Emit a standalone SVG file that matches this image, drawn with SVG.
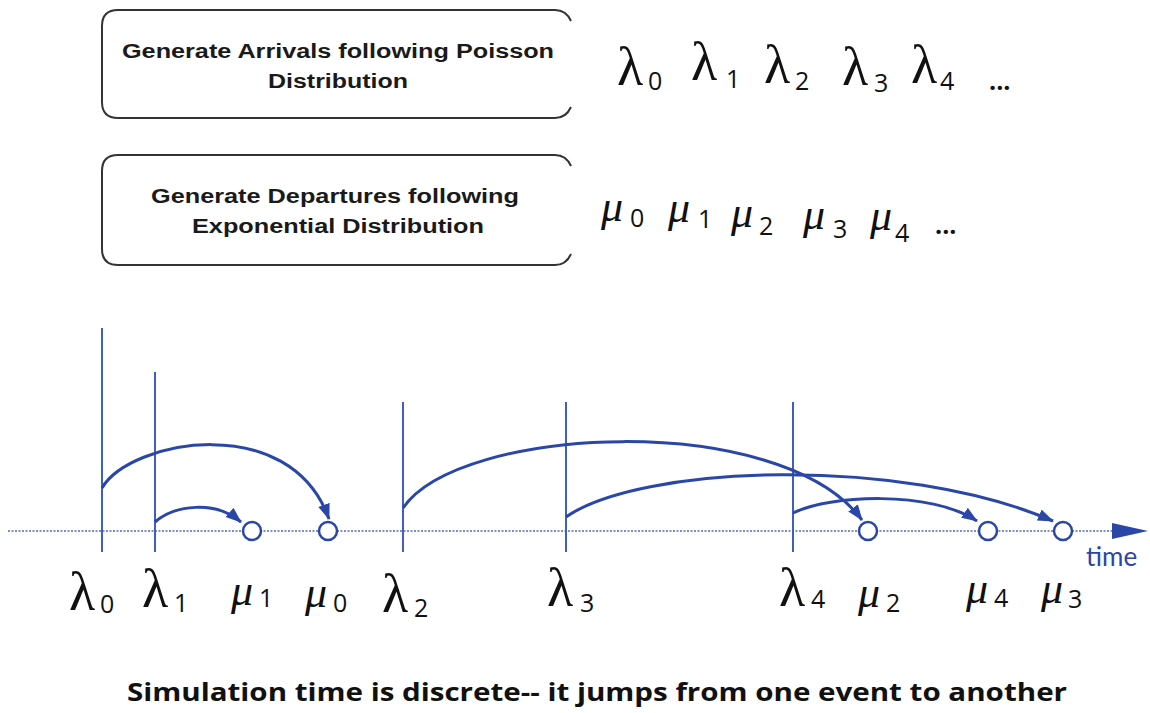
<svg xmlns="http://www.w3.org/2000/svg" width="1150" height="713" viewBox="0 0 1150 713">
<style>
.box{fill:none;stroke:#333;stroke-width:2}
.bt{font-family:"Liberation Sans",Arial,sans-serif;font-weight:bold;font-size:20px;fill:#1a1a1a;text-anchor:middle}
.lam{font-family:"Liberation Serif","DejaVu Serif",serif;font-size:54px;fill:#111}
.mu{font-family:"Liberation Serif","DejaVu Serif",serif;font-style:italic;font-size:44px;fill:#111}
.sub{font-family:"Open Sans","Liberation Sans",sans-serif;font-size:25px;fill:#111}
.vl{stroke:#3f5fc0;stroke-width:2}
.arc{fill:none;stroke:#2a47a8;stroke-width:3;marker-end:url(#ah)}
.ev{fill:#fff;stroke:#2a47a8;stroke-width:2.5}
</style>
<defs>
<marker id="ah" markerUnits="userSpaceOnUse" markerWidth="16" markerHeight="14" refX="15" refY="6" orient="auto">
<path d="M0,0 L16,6 L0,12 Z" fill="#2a47a8"/>
</marker>
</defs>
<g id="arrivals">
<path class="box" d="M571,21 Q566,10 555,10 H118 Q102,10 102,26 V102 Q102,118 118,118 H555 Q566,118 571,107"/>
<text class="bt" x="338" y="58" textLength="432" lengthAdjust="spacingAndGlyphs">Generate Arrivals following Poisson</text>
<text class="bt" x="338" y="88" textLength="140" lengthAdjust="spacingAndGlyphs">Distribution</text>
</g>
<g id="departures">
<path class="box" d="M571,166 Q566,155 555,155 H118 Q102,155 102,171 V249 Q102,265 118,265 H555 Q566,265 571,254"/>
<text class="bt" x="335" y="203" textLength="368" lengthAdjust="spacingAndGlyphs">Generate Departures following</text>
<text class="bt" x="338" y="233" textLength="292" lengthAdjust="spacingAndGlyphs">Exponential Distribution</text>
</g>
<g id="lambda-seq">
<text class="lam" x="617" y="85">λ</text><text class="sub" x="648" y="90">0</text>
<text class="lam" x="691" y="80">λ</text><text class="sub" x="726" y="88">1</text>
<text class="lam" x="764" y="83">λ</text><text class="sub" x="795" y="90">2</text>
<text class="lam" x="842" y="85">λ</text><text class="sub" x="874" y="92">3</text>
<text class="lam" x="911" y="83">λ</text><text class="sub" x="940" y="90">4</text>
<text class="sub" x="989" y="90" font-weight="bold">...</text>
</g>
<g id="mu-seq">
<text class="mu" x="601" y="221">μ</text><text class="sub" x="630" y="227">0</text>
<text class="mu" x="668" y="222">μ</text><text class="sub" x="698" y="228">1</text>
<text class="mu" x="731" y="227">μ</text><text class="sub" x="759" y="235">2</text>
<text class="mu" x="803" y="229">μ</text><text class="sub" x="833" y="238">3</text>
<text class="mu" x="870" y="230">μ</text><text class="sub" x="895" y="242">4</text>
<text class="sub" x="935" y="234" font-weight="bold">...</text>
</g>
<g id="timeline">
<line x1="8" y1="531" x2="1116" y2="531" stroke="#4a6cc4" stroke-width="1.5" stroke-dasharray="2,1.5"/>
<polygon points="1112,523 1148,531 1112,539" fill="#2a47a8"/>
<text x="1086" y="566" font-family="Lato,'Open Sans',sans-serif" font-size="26" fill="#2a47a8">time</text>
</g>
<g id="ticks">
<line class="vl" x1="102" y1="328" x2="102" y2="552"/>
<line class="vl" x1="155" y1="372" x2="155" y2="552"/>
<line class="vl" x1="403" y1="402" x2="403" y2="552"/>
<line class="vl" x1="566" y1="402" x2="566" y2="552"/>
<line class="vl" x1="793" y1="402" x2="793" y2="552"/>
</g>
<g id="connectors">
<path class="arc" d="M102,488 C130,440 290,410 329,519"/>
<path class="arc" d="M155,522 C175,505 215,500 241,522"/>
<path class="arc" d="M403,508 C460,425 780,410 862,520"/>
<path class="arc" d="M566,517 C640,465 900,455 1053,521"/>
<path class="arc" d="M793,513 C830,495 930,490 977,521"/>
</g>
<g id="events">
<circle class="ev" cx="252" cy="531" r="9"/>
<circle class="ev" cx="328" cy="531" r="9"/>
<circle class="ev" cx="868" cy="531" r="9"/>
<circle class="ev" cx="988" cy="531" r="9"/>
<circle class="ev" cx="1063" cy="531" r="9"/>
</g>
<g id="axis-labels">
<text class="lam" x="69" y="610">λ</text><text class="sub" x="100" y="613">0</text>
<text class="lam" x="142" y="607">λ</text><text class="sub" x="174" y="612">1</text>
<text class="mu" x="231" y="605">μ</text><text class="sub" x="259" y="607">1</text>
<text class="mu" x="305" y="607">μ</text><text class="sub" x="333" y="612">0</text>
<text class="lam" x="382" y="612">λ</text><text class="sub" x="414" y="617">2</text>
<text class="lam" x="547" y="606">λ</text><text class="sub" x="580" y="612">3</text>
<text class="lam" x="779" y="606">λ</text><text class="sub" x="811" y="608">4</text>
<text class="mu" x="858" y="607">μ</text><text class="sub" x="886" y="612">2</text>
<text class="mu" x="966" y="603">μ</text><text class="sub" x="994" y="607">4</text>
<text class="mu" x="1041" y="603">μ</text><text class="sub" x="1068" y="608">3</text>
</g>
<g id="caption">
<text x="597" y="701" text-anchor="middle" font-family="'Open Sans','Liberation Sans',sans-serif" font-weight="bold" font-size="25" textLength="940" lengthAdjust="spacingAndGlyphs" fill="#111">Simulation time is discrete-- it jumps from one event to another</text>
</g>
</svg>
